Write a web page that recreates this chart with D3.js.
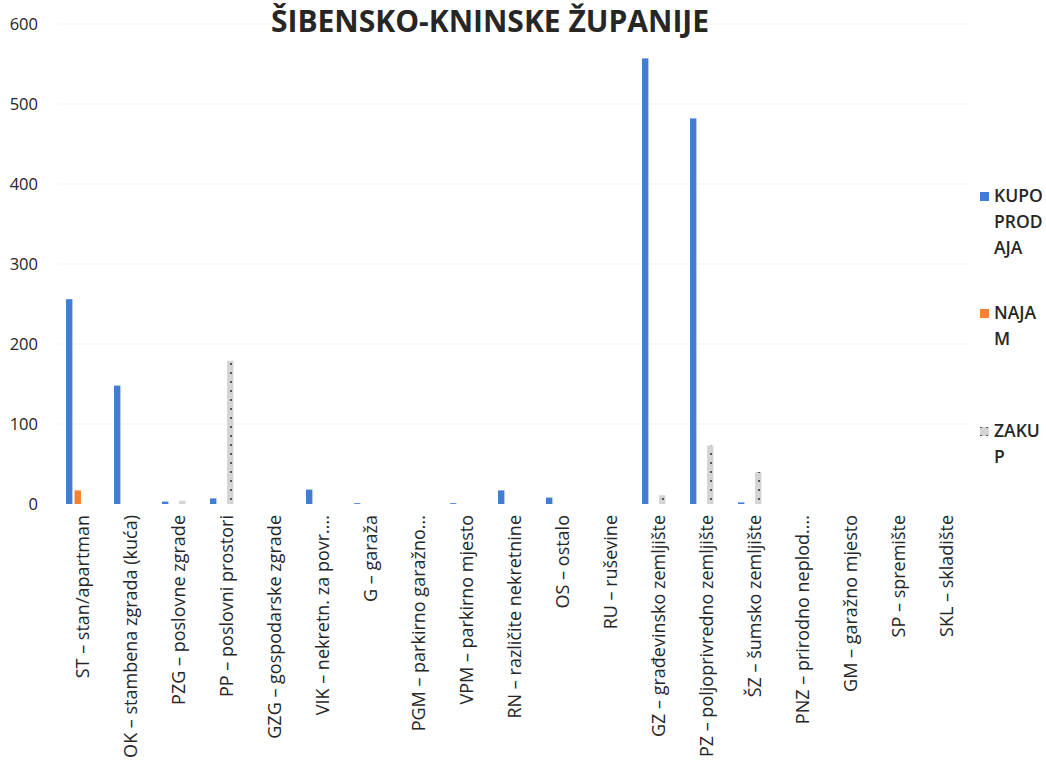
<!DOCTYPE html>
<html><head><meta charset="utf-8">
<script src="https://cdn.jsdelivr.net/npm/d3@7"></script>
<style>body{margin:0;background:#fff;} svg{display:block;}</style>
</head><body>
<svg id="c" width="1046" height="767"></svg>
<script>
const title = "ŠIBENSKO-KNINSKE ŽUPANIJE";
const categories = ["ST – stan/apartman","OK – stambena zgrada (kuća)","PZG – poslovne zgrade","PP – poslovni prostori","GZG – gospodarske zgrade","VIK – nekretn. za povr....","G – garaža","PGM – parkirno garažno...","VPM – parkirno mjesto","RN – različite nekretnine","OS – ostalo","RU – ruševine","GZ – građevinsko zemljište","PZ – poljoprivredno zemljište","ŠZ – šumsko zemljište","PNZ – prirodno neplod....","GM – garažno mjesto","SP – spremište","SKL – skladište"];
const seriesNames = ["KUPOPRODAJA","NAJAM","ZAKUP"];
const legendLines = [["KUPO","PROD","AJA"],["NAJA","M"],["ZAKU","P"]];
const kupoprodaja = [256,148,3,7,0,18,1,0,1,17,8,0,557,482,2,0,0,0,0];
const najam       = [17,0,0,0,0,0,0,0,0,0,0,0,0,0,0,0,0,0,0];
const zakup       = [0,0,4,179,0,0,0,0,0,0,0,0,11,73,40,0,0,0,0];
const yTicks = [0,100,200,300,400,500,600];

const svg = d3.select("#c");
const defs = svg.append("defs");
const pat = defs.append("pattern").attr("id","dots").attr("patternUnits","userSpaceOnUse").attr("width",6).attr("height",9);
pat.append("rect").attr("width",6).attr("height",9).attr("fill","#d4d4d4");
pat.append("rect").attr("x",2).attr("y",3).attr("width",2).attr("height",2).attr("fill","#555");

const x0 = d3.scaleBand().domain(categories).range([58,970]);
const x1 = d3.scaleBand().domain([...seriesNames,"_"]).range([-16,16]).paddingInner(0.25);
const y = d3.scaleLinear().domain([0,600]).range([504,24]);
const colors = {"KUPOPRODAJA":"#3d7fd6","NAJAM":"#f58232","ZAKUP":"url(#dots)"};
const seriesData = {"KUPOPRODAJA":kupoprodaja,"NAJAM":najam,"ZAKUP":zakup};

// grid
svg.append("g").selectAll("line").data(yTicks.slice(1)).join("line")
  .attr("x1",58).attr("x2",970).attr("y1",d=>y(d)).attr("y2",d=>y(d))
  .attr("stroke","#f2f2f2").attr("stroke-width",1);

// y axis
const ya = svg.append("g").attr("transform","translate(40,0)")
  .call(d3.axisLeft(y).tickValues(yTicks).tickSize(0).tickPadding(2));
ya.select(".domain").remove();
ya.selectAll("text").attr("font-family","Open Sans").attr("font-size",16.5).attr("fill","#262626");

// bars
seriesNames.forEach(s=>{
  svg.append("g").selectAll("rect").data(seriesData[s].map((v,i)=>({c:categories[i],v}))).join("rect")
    .attr("x",d=>x0(d.c)+x0.bandwidth()/2+x1(s))
    .attr("width",x1.bandwidth())
    .attr("y",d=>y(d.v))
    .attr("height",d=>y(0)-y(d.v))
    .attr("fill",colors[s]);
});

// x labels
svg.append("g").selectAll("text").data(categories).join("text")
  .attr("transform",d=>`translate(${x0(d)+x0.bandwidth()/2+7},515) rotate(-90)`)
  .attr("text-anchor","end")
  .attr("font-family","Open Sans").attr("font-size",18).attr("fill","#262626")
  .text(d=>d);

// title
svg.append("text").attr("x",490).attr("y",32).attr("text-anchor","middle")
  .attr("font-family","Open Sans").attr("font-weight","bold").attr("font-size",30)
  .attr("fill","#262626").text(title);

// legend
const legY = [192,309,427];
seriesNames.forEach((s,i)=>{
  const g = svg.append("g");
  g.append("rect").attr("x",980).attr("y",legY[i]).attr("width",9).attr("height",9).attr("fill",colors[s]);
  legendLines[i].forEach((t,j)=>{
    g.append("text").attr("x",994).attr("y",legY[i]+10+j*26)
      .attr("font-family","Open Sans").attr("font-weight",600).attr("font-size",17.5)
      .attr("fill","#262626").text(t);
  });
});
</script>
</body></html>
